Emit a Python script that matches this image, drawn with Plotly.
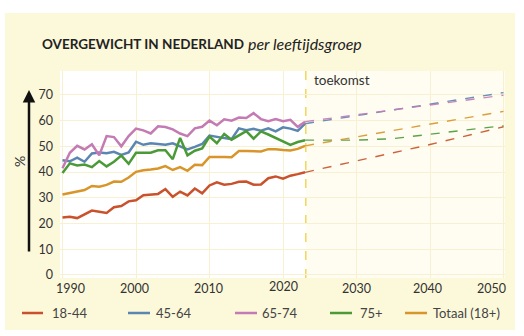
import plotly.graph_objects as go

# ---------------- data ----------------
years_hist = list(range(1990, 2024))

age_18_44 = [22.3, 22.6, 22.1, 23.6, 25.0, 24.6, 24.1, 26.3, 26.8, 28.6,
             29.0, 31.0, 31.3, 31.5, 33.4, 30.4, 32.4, 30.9, 33.6, 31.7,
             34.8, 36.0, 35.1, 35.4, 36.2, 36.3, 35.1, 35.2, 37.6, 38.3,
             37.4, 38.6, 39.2, 39.9]
age_45_64 = [44.6, 44.2, 45.6, 44.0, 47.2, 47.6, 47.3, 47.9, 46.7, 47.6,
             51.8, 50.6, 51.2, 51.0, 50.6, 51.2, 50.0, 48.8, 49.8, 50.9,
             54.2, 53.6, 53.2, 52.8, 57.0, 56.3, 56.8, 56.1, 57.0, 55.8,
             57.4, 56.9, 56.0, 58.8]
age_65_74 = [41.5, 47.5, 50.2, 48.8, 50.8, 46.5, 54.0, 53.6, 50.0, 54.0,
             56.9, 56.2, 55.0, 57.8, 57.5, 56.6, 55.0, 54.0, 57.0, 57.6,
             60.0, 58.2, 60.5, 60.0, 61.2, 61.0, 62.9, 60.6, 59.8, 60.6,
             59.8, 60.3, 57.6, 59.6]
age_75plus = [39.6, 43.4, 42.6, 42.9, 41.9, 44.3, 42.2, 44.0, 46.4, 43.2,
              47.5, 47.5, 47.5, 48.5, 48.5, 45.0, 53.3, 46.5, 48.3, 49.2,
              53.8, 51.2, 54.8, 52.6, 54.3, 55.9, 53.0, 55.8, 54.6, 53.2,
              52.0, 50.6, 51.7, 52.4]
totaal = [31.3, 31.9, 32.5, 33.0, 34.6, 34.3, 35.0, 36.3, 36.2, 37.9,
          40.1, 40.7, 41.0, 41.4, 42.3, 40.8, 41.9, 40.5, 42.8, 42.7,
          45.9, 46.0, 45.9, 45.8, 48.2, 48.2, 48.1, 48.0, 48.9, 48.9,
          48.6, 48.4, 49.0, 50.2]

years_proj = [2023, 2030, 2035, 2040, 2045, 2050]
proj_18_44 = [39.9, 44.2, 47.5, 50.7, 54.1, 57.6]
proj_45_64 = [58.8, 61.9, 64.1, 66.4, 68.6, 70.9]
proj_65_74 = [59.6, 62.3, 64.1, 66.0, 67.9, 69.9]
proj_75plus = [52.4, 52.4, 53.0, 54.8, 56.4, 58.0]
proj_totaal = [50.2, 53.6, 56.1, 58.6, 61.1, 63.6]

series_names = ["18-44", "45-64", "65-74", "75+", "Totaal (18+)"]
x_ticks = [1990, 2000, 2010, 2020, 2030, 2040, 2050]
y_ticks = [0, 10, 20, 30, 40, 50, 60, 70]

title_main = "OVERGEWICHT IN NEDERLAND"
title_sub = "per leeftijdsgroep"
future_label = "toekomst"
y_label = "%"
future_start = 2023.1

# ---------------- styling ----------------
colors = ["#c9522c", "#5b86b2", "#c47bb4", "#4a9a38", "#d8952a"]
hist = [age_18_44, age_45_64, age_65_74, age_75plus, totaal]
proj = [proj_18_44, proj_45_64, proj_65_74, proj_75plus, proj_totaal]

W, H = 524, 336
L, R, T, B = 60, 19, 71, 58
PW, PH = W - L - R, H - T - B


def px(x):
    return (x - L) / PW


def py(y):
    return (H - B - y) / PH


FONT = "Lato, 'Open Sans', sans-serif"
TXT = "#333333"

fig = go.Figure()
for name, c, yp in zip(series_names, colors, proj):
    fig.add_trace(go.Scatter(x=years_proj, y=yp, mode="lines", name=name,
                             line=dict(color=c, width=1.4, dash="dash"),
                             opacity=0.9, hoverinfo="skip"))
for name, c, yh in zip(series_names, colors, hist):
    fig.add_trace(go.Scatter(x=years_hist, y=yh, mode="lines", name=name,
                             line=dict(color=c, width=2.5)))

shapes = [
    dict(type="rect", xref="paper", yref="paper", x0=px(5), x1=px(515),
         y0=py(330), y1=py(13), fillcolor="#fcf8da", line=dict(width=0),
         layer="below"),
    dict(type="rect", xref="paper", yref="paper", x0=0, x1=1, y0=0, y1=1,
         fillcolor="#fffdf1", line=dict(width=0), layer="below"),
    dict(type="rect", xref="x", yref="paper", x0=1989.66, x1=future_start,
         y0=0, y1=1, fillcolor="#ffffff", line=dict(width=0), layer="below"),
    dict(type="line", xref="x", yref="paper", x0=future_start, x1=future_start,
         y0=0, y1=1, line=dict(color="#f1d75c", width=1.5, dash="dash"),
         layer="below"),
]

annotations = [
    dict(xref="paper", yref="paper", x=px(40), y=py(44), xanchor="left",
         yanchor="middle", showarrow=False, text=f"<b>{title_main}</b>",
         font=dict(family=FONT, size=13.5, color="#222222")),
    dict(xref="paper", yref="paper", x=px(246), y=py(43), xanchor="left",
         yanchor="middle", showarrow=False, text=f"<i>{title_sub}</i>",
         font=dict(family=FONT, size=16, color="#222222")),
    dict(xref="x", yref="paper", x=future_start, xshift=6, y=py(80),
         xanchor="left", yanchor="middle", showarrow=False, text=future_label,
         font=dict(family=FONT, size=13.5, color=TXT)),
    dict(xref="paper", yref="paper", x=px(19), y=py(162), showarrow=False,
         xanchor="center", yanchor="middle",
         text=y_label, textangle=-90,
         font=dict(family=FONT, size=14, color=TXT)),
    dict(xref="paper", yref="paper", x=px(29), y=py(90), text="",
         showarrow=True, axref="pixel", ayref="pixel", ax=0, ay=163,
         arrowhead=2, arrowsize=1, arrowwidth=2.5, arrowcolor="#111111"),
]

# x tick labels (nudged like the original artwork)
x_label_shift = [8, -2, -1, 0, 0, -3, -12]
x_label_lift = [0, 0, 0, 2, 0, 0, 0]
for v, dx, dy in zip(x_ticks, x_label_shift, x_label_lift):
    annotations.append(dict(xref="x", yref="paper", x=v, xshift=dx,
                            y=py(288), yshift=dy, xanchor="center",
                            yanchor="middle", showarrow=False, text=str(v),
                            font=dict(family=FONT, size=12.5, color=TXT)))

# manual legend
leg_pos = [(22, 43, 50), (128, 150, 154), (235, 257, 260), (330, 352, 358),
           (405, 427, 431)]
leg_y = 313
for name, c, (l0, l1, tx) in zip(series_names, colors, leg_pos):
    shapes.append(dict(type="line", xref="paper", yref="paper", x0=px(l0),
                       x1=px(l1), y0=py(leg_y), y1=py(leg_y),
                       line=dict(color=c, width=2.5)))
    annotations.append(dict(xref="paper", yref="paper", x=px(tx), y=py(leg_y),
                            xanchor="left", yanchor="middle", showarrow=False,
                            text=name,
                            font=dict(family=FONT, size=13, color="#444444")))

fig.update_layout(
    width=W, height=H,
    margin=dict(l=L, r=R, t=T, b=B, pad=0),
    paper_bgcolor="#ffffff", plot_bgcolor="#fffdf1",
    showlegend=False,
    font=dict(family=FONT, size=12, color=TXT),
    shapes=shapes, annotations=annotations,
    xaxis=dict(range=[1989.66, 2050.2], tickvals=x_ticks, showgrid=True,
               gridcolor="#f7f1d2", gridwidth=1, zeroline=False,
               showline=False, ticks="", showticklabels=False),
    yaxis=dict(range=[-1.2, 79.3], tickvals=y_ticks, showgrid=True,
               gridcolor="#f7f1d2", gridwidth=1, zeroline=False,
               showline=False, ticks="", ticklabelstandoff=6,
               tickfont=dict(size=12.5, color=TXT)),
)

fig.write_html("out.html")
